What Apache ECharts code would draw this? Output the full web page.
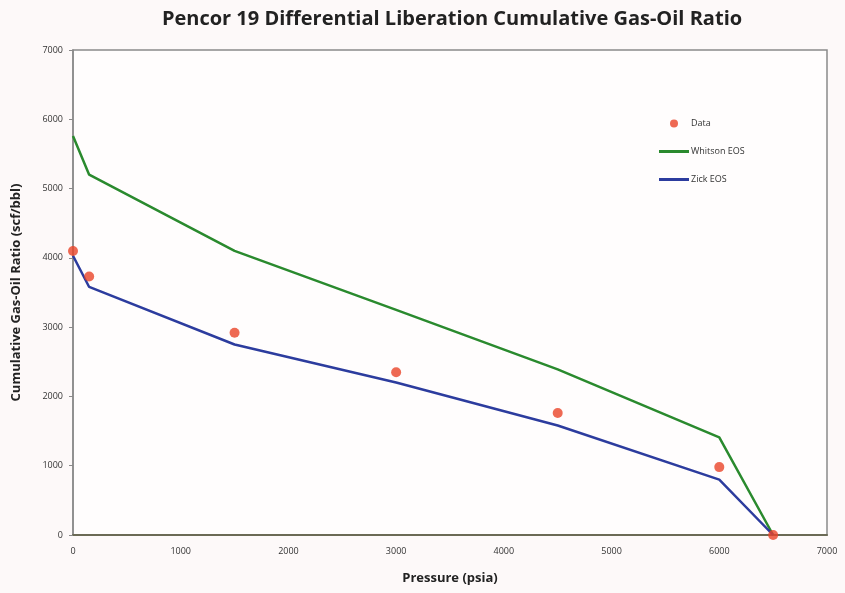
<!DOCTYPE html>
<html>
<head>
<meta charset="utf-8">
<script src="https://cdn.jsdelivr.net/npm/echarts@6/dist/echarts.min.js"></script>
<style>
  html, body { margin: 0; padding: 0; background: #fdf9f9; }
  #chart { width: 845px; height: 593px; }
</style>
</head>
<body>
<div id="chart"></div>
<script>
// Pressure steps (psia) of the differential liberation test
const pressure = [0, 150, 1500, 3000, 4500, 6000, 6500];
// Measured cumulative gas-oil ratio (scf/bbl)
const dataGor = [4100, 3730, 2920, 2350, 1760, 980, 0];
// EOS model predictions (scf/bbl)
const whitsonGor = [5760, 5200, 4100, 3250, 2390, 1410, 0];
const zickGor = [4030, 3580, 2750, 2200, 1580, 800, 0];

const xTicks = [0, 1000, 2000, 3000, 4000, 5000, 6000, 7000];
const yTicks = [0, 1000, 2000, 3000, 4000, 5000, 6000, 7000];

const pair = (xs, ys) => xs.map((x, i) => [x, ys[i]]);
const lineIcon = 'path://M0,0 L30,0 L30,3 L0,3 Z';

const chart = echarts.init(document.getElementById('chart'));
const tickFont = { fontFamily: 'Open Sans', fontSize: 9, color: '#333', formatter: v => String(v) };

chart.setOption({
  backgroundColor: '#fdf9f9',
  animation: false,
  title: {
    text: 'Pencor 19 Differential Liberation Cumulative Gas-Oil Ratio',
    left: 447, top: 4, textAlign: 'center',
    textStyle: { fontFamily: 'Open Sans', fontWeight: 'bold', fontSize: 20, color: '#222' }
  },
  grid: {
    left: 73, right: 18, top: 50, bottom: 58,
    show: true, borderColor: '#8a8a8a', borderWidth: 1.5, backgroundColor: '#fffdfd'
  },
  legend: {
    orient: 'vertical', left: 654, top: 114, itemGap: 19,
    itemWidth: 30, itemHeight: 8,
    textStyle: { fontFamily: 'Open Sans', fontSize: 9, color: '#333', padding: [0, 0, 0, -3] },
    data: [
      { name: 'Data', icon: 'circle', itemStyle: { color: '#ea4328' } },
      { name: 'Whitson EOS', icon: lineIcon },
      { name: 'Zick EOS', icon: lineIcon }
    ]
  },
  xAxis: {
    type: 'value', min: xTicks[0], max: xTicks[xTicks.length - 1], interval: 1000,
    name: 'Pressure (psia)', nameLocation: 'middle', nameGap: 37,
    nameTextStyle: { fontFamily: 'Open Sans', fontWeight: 'bold', fontSize: 13, color: '#222' },
    axisLine: { show: true, lineStyle: { color: '#6b6a55', width: 2 } },
    axisTick: { show: false },
    axisLabel: Object.assign({ margin: 12 }, tickFont),
    splitLine: { show: false }
  },
  yAxis: {
    type: 'value', min: yTicks[0], max: yTicks[yTicks.length - 1], interval: 1000,
    name: 'Cumulative Gas-Oil Ratio (scf/bbl)', nameLocation: 'middle', nameGap: 50,
    nameTextStyle: { fontFamily: 'Open Sans', fontWeight: 'bold', fontSize: 13, color: '#222' },
    axisLine: { show: true, lineStyle: { color: '#8a8a8a', width: 1.5 } },
    axisTick: { show: true, length: 4, lineStyle: { color: '#8a8a8a' } },
    axisLabel: Object.assign({ margin: 10 }, tickFont),
    splitLine: { show: false }
  },
  series: [
    {
      name: 'Whitson EOS', type: 'line', data: pair(pressure, whitsonGor),
      symbol: 'none', lineStyle: { color: '#2a8a2e', width: 2.5 }, itemStyle: { color: '#2a8a2e' }, z: 2
    },
    {
      name: 'Zick EOS', type: 'line', data: pair(pressure, zickGor),
      symbol: 'none', lineStyle: { color: '#2c3c9e', width: 2.5 }, itemStyle: { color: '#2c3c9e' }, z: 2
    },
    {
      name: 'Data', type: 'scatter', data: pair(pressure, dataGor),
      symbol: 'circle', symbolSize: 10, itemStyle: { color: '#ea4328' }, z: 3
    }
  ]
});
</script>
</body>
</html>
